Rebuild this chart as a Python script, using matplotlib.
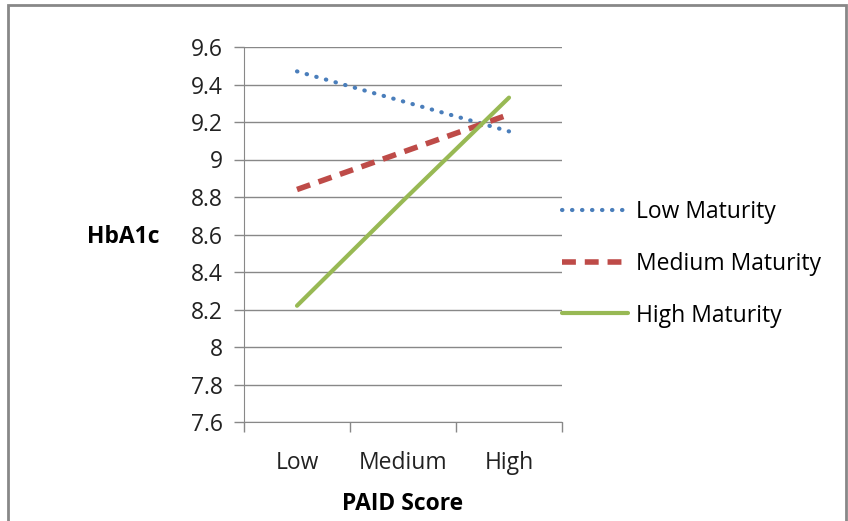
import matplotlib.pyplot as plt
from matplotlib.patches import Rectangle

categories = ["Low", "Medium", "High"]
low_maturity = [9.47, 9.31, 9.15]
medium_maturity = [8.84, 9.04, 9.24]
high_maturity = [8.22, 8.78, 9.33]
y_ticks = [7.6, 7.8, 8.0, 8.2, 8.4, 8.6, 8.8, 9.0, 9.2, 9.4, 9.6]
y_tick_labels = ["7.6", "7.8", "8", "8.2", "8.4", "8.6", "8.8", "9", "9.2", "9.4", "9.6"]

plt.rcParams["font.family"] = ["Open Sans", "DejaVu Sans"]
grey = "#888888"
fs = 16.5

fig = plt.figure(figsize=(8.48, 5.21), dpi=100)
ax = fig.add_axes([244 / 848, 1 - 422 / 521, 318 / 848, 375 / 521])

x = range(len(categories))
ax.plot(x, low_maturity, color="#4A7EBB", lw=3, linestyle=(0, (0.1, 2.3)),
        dash_capstyle="round", label="Low Maturity")
ax.plot(x, medium_maturity, color="#BE4B48", lw=4, linestyle=(0, (2.5, 1.6)),
        label="Medium Maturity")
ax.plot(x, high_maturity, color="#98B954", lw=3, label="High Maturity",
        solid_capstyle="round")

ax.set_xlim(-0.5, 2.5)
ax.set_ylim(7.6, 9.6)
ax.set_yticks(y_ticks)
ax.set_yticklabels(y_tick_labels)
ax.set_xticks(list(x))
ax.set_xticklabels(categories)
ax.set_xticks([-0.5, 0.5, 1.5, 2.5], minor=True)
ax.tick_params(axis="x", which="major", length=0, pad=21, labelsize=fs, colors="#222222")
ax.tick_params(axis="x", which="minor", length=7, color=grey, width=1, direction="out")
ax.tick_params(axis="y", length=7, color=grey, width=1, labelsize=fs, pad=8,
               labelcolor="#222222")

ax.grid(axis="y", color=grey, lw=1)
ax.set_axisbelow(True)
for s in ["top", "right"]:
    ax.spines[s].set_visible(False)
for s in ["left", "bottom"]:
    ax.spines[s].set_color(grey)

ax.set_xlabel("PAID Score", fontsize=fs, fontweight="bold", labelpad=12)
fig.text(87 / 848, 1 - 237 / 521, "HbA1c", fontsize=fs, fontweight="bold",
         va="center", ha="left")

ax.legend(loc="center left", bbox_to_anchor=(1.0, 1 - (264 - 47) / 375), frameon=False,
          fontsize=fs, handlelength=2.9, handletextpad=0.35, labelspacing=1.2,
          borderaxespad=0.0, borderpad=0.0)

fig.patches.append(Rectangle((8 / 848, -0.01), 838 / 848, 1 - 5 / 521 + 0.01,
                             transform=fig.transFigure, fill=False,
                             edgecolor=grey, lw=2))

fig.savefig("out.png", dpi=100)
